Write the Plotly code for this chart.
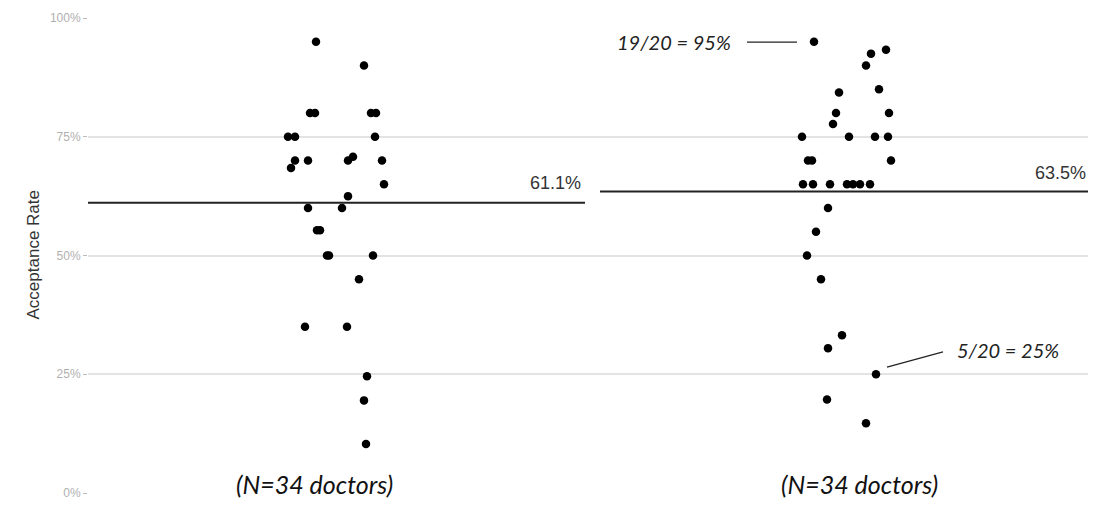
import plotly.graph_objects as go

# ---- data ----
groups = ["Group A", "Group B"]
rates_a = [95, 90, 80, 80, 80, 80, 75, 75, 75, 70, 68.4, 70, 70, 70.8, 70, 65, 62.5, 60, 60,
           55.3, 55.3, 50, 50, 50, 45, 35, 35, 24.6, 19.5, 10.3]
jitter_a = [-0.044, 0.052, -0.056, -0.046, 0.066, 0.076, -0.100, -0.086, 0.074, -0.086, -0.094,
            -0.060, 0.020, 0.030, 0.088, 0.092, 0.020, -0.060, 0.008, -0.042, -0.036, -0.022,
            -0.018, 0.070, 0.042, -0.066, 0.018, 0.058, 0.052, 0.056]
rates_b = [95, 92.5, 93.3, 90, 84.3, 85, 80, 80, 77.7, 75, 75, 75, 75, 70, 70, 70, 65, 65, 65,
           65, 65, 65, 65, 60, 55, 50, 45, 33.2, 30.5, 25, 19.7, 14.7]
jitter_b = [-0.048, 0.066, 0.096, 0.056, 0.002, 0.082, -0.004, 0.102, -0.010, -0.072, 0.022,
            0.074, 0.100, -0.060, -0.052, 0.106, -0.070, -0.050, -0.016, 0.018, 0.030, 0.044,
            0.064, -0.020, -0.044, -0.062, -0.034, 0.008, -0.020, 0.076, -0.022, 0.056]
means = [61.1, 63.5]
mean_labels = ["61.1%", "63.5%"]
n_labels = ["(N=34 doctors)", "(N=34 doctors)"]
tick_vals = [0, 25, 50, 75, 100]
tick_text = ["0%", "25%", "50%", "75%", "100%"]
y_title = "Acceptance Rate"

fig = go.Figure()

for gi, (rates, jit) in enumerate([(rates_a, jitter_a), (rates_b, jitter_b)]):
    center = gi + 1
    fig.add_trace(go.Scatter(
        x=[center + j for j in jit], y=rates, mode="markers",
        marker=dict(color="black", size=8.5),
        showlegend=False, hoverinfo="y"))

# mean lines
fig.add_shape(type="line", x0=0.5, x1=1.494, y0=means[0], y1=means[0],
              line=dict(color="#222", width=2))
fig.add_shape(type="line", x0=1.524, x1=2.5, y0=means[1], y1=means[1],
              line=dict(color="#222", width=2))

# annotation leader lines
fig.add_shape(type="line", x0=1.818, x1=1.918, y0=94.9, y1=94.9,
              line=dict(color="#222", width=1.2))
fig.add_shape(type="line", x0=2.098, x1=2.21, y0=26.5, y1=29.7,
              line=dict(color="#222", width=1.2))

ann_font = dict(family="Lato", size=20, color="#222")
fig.add_annotation(x=1.49, y=65.3, text=mean_labels[0], showarrow=False, xanchor="right",
                   yanchor="middle", font=dict(family="Liberation Sans", size=18, color="#333"))
fig.add_annotation(x=2.5, y=67.4, text=mean_labels[1], showarrow=False, xanchor="right",
                   yanchor="middle", font=dict(family="Liberation Sans", size=18, color="#333"))
fig.add_annotation(x=1.79, y=94.9, text="<i>19/20 = 95%</i>", showarrow=False,
                   xanchor="right", yanchor="middle", font=ann_font)
fig.add_annotation(x=2.234, y=30.1, text="<i>5/20 = 25%</i>", showarrow=False,
                   xanchor="left", yanchor="middle", font=ann_font)
fig.add_annotation(x=0.952, y=2.0, text="<i>" + n_labels[0] + "</i>", showarrow=False,
                   xanchor="center", yanchor="middle",
                   font=dict(family="Lato", size=25, color="#111"))
fig.add_annotation(x=2.042, y=2.0, text="<i>" + n_labels[1] + "</i>", showarrow=False,
                   xanchor="center", yanchor="middle",
                   font=dict(family="Lato", size=25, color="#111"))
# y-axis title
fig.add_annotation(xref="paper", yref="paper", x=-0.055, y=0.5, text=y_title,
                   textangle=-90, showarrow=False, xanchor="center", yanchor="middle",
                   font=dict(family="Liberation Sans", size=17, color="#333"))

fig.update_layout(
    width=1102, height=508,
    margin=dict(l=80, r=22, t=10, b=23, autoexpand=False),
    paper_bgcolor="white", plot_bgcolor="white",
    xaxis=dict(range=[0.5, 2.5], showgrid=False, zeroline=False, showticklabels=False,
               ticks="", showline=False, automargin=False),
    yaxis=dict(range=[0, 100], tickvals=tick_vals, ticktext=tick_text,
               showgrid=True, gridcolor="#e3e3e3", gridwidth=2, zeroline=False,
               ticks="outside", ticklen=4, tickcolor="#bbb", automargin=False,
               tickfont=dict(family="Liberation Sans", size=12, color="#b0b0b0")),
)

fig.write_html("out.html")
